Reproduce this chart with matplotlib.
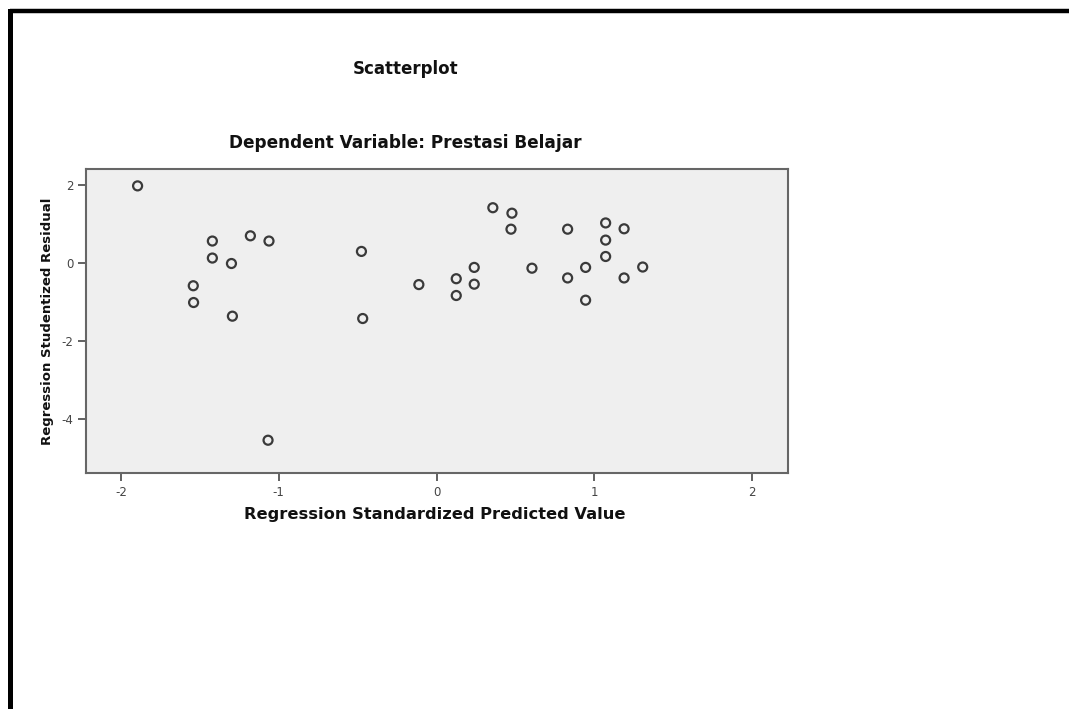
import matplotlib
matplotlib.use("Agg")
import matplotlib.pyplot as plt
from matplotlib.lines import Line2D

plt.rcParams['font.family'] = ['DejaVu Sans']

# Data
pred_x = [-1.895, -1.421, -1.180, -1.062, -0.476, -1.421, -1.300, -0.112,
          -1.542, -1.540, -1.294, -0.468, -1.068,
          0.357, 0.478, 0.472, 0.831, 1.072, 1.189, 1.072, 1.072,
          0.239, 0.605, 0.945, 1.307, 0.125, 0.239, 0.831, 1.189,
          0.125, 0.945]
resid_y = [1.97, 0.556, 0.69, 0.556, 0.29, 0.12, -0.02, -0.56,
           -0.59, -1.02, -1.37, -1.43, -4.55,
           1.41, 1.27, 0.86, 0.86, 1.02, 0.87, 0.58, 0.16,
           -0.12, -0.14, -0.12, -0.11, -0.41, -0.55, -0.39, -0.39,
           -0.84, -0.96]
xticks = [-2, -1, 0, 1, 2]
yticks = [2, 0, -2, -4]

title = "Scatterplot"
subtitle = "Dependent Variable: Prestasi Belajar"
xlabel = "Regression Standardized Predicted Value"
ylabel = "Regression Studentized Residual"

W, H = 1069, 709
fig = plt.figure(figsize=(W / 100, H / 100), dpi=100)
fig.patch.set_facecolor('white')

# page frame: black lines on top and left only
fig.add_artist(Line2D([9.5 / W, 1.0], [1 - 11 / H, 1 - 11 / H],
                      transform=fig.transFigure, color='black', linewidth=3.2,
                      solid_capstyle='butt'))
fig.add_artist(Line2D([9.5 / W, 9.5 / W], [0.0, 1 - 11 / H],
                      transform=fig.transFigure, color='black', linewidth=3.6,
                      solid_capstyle='projecting'))

ax = fig.add_axes([86 / W, 1 - 473 / H, (788 - 86) / W, (473 - 169.3) / H])
ax.set_facecolor('#efefef')
ax.scatter(pred_x, resid_y, s=42, facecolors='none', edgecolors='#3a3a3a',
           linewidths=1.6, zorder=3)

ax.set_xlim(-2.222, 2.228)
ax.set_ylim(-5.39, 2.395)
ax.set_xticks(xticks)
ax.set_xticklabels([str(t) for t in xticks])
ax.set_yticks(yticks)
ax.set_yticklabels([str(t) for t in yticks])
ax.tick_params(direction='out', length=6, width=1.3, color='#555555',
               labelcolor='#444444', labelsize=8.5, pad=3)
for s in ax.spines.values():
    s.set_color('#666666')
    s.set_linewidth(1.5)

fig.text(405.7 / W, 1 - 69 / H, title, ha='center', va='center',
         fontsize=12, fontweight='bold', color='#111111')
fig.text(405 / W, 1 - 143 / H, subtitle, ha='center', va='center',
         fontsize=12.2, fontweight='bold', color='#111111')
fig.text(435 / W, 1 - 514 / H, xlabel, ha='center', va='center',
         fontsize=11.7, fontweight='bold', color='#111111')
fig.text(47.5 / W, 1 - 321 / H, ylabel, ha='center', va='center',
         rotation=90, fontsize=9.5, fontweight='bold', color='#111111')

fig.savefig('out.png', dpi=100, facecolor='white')
